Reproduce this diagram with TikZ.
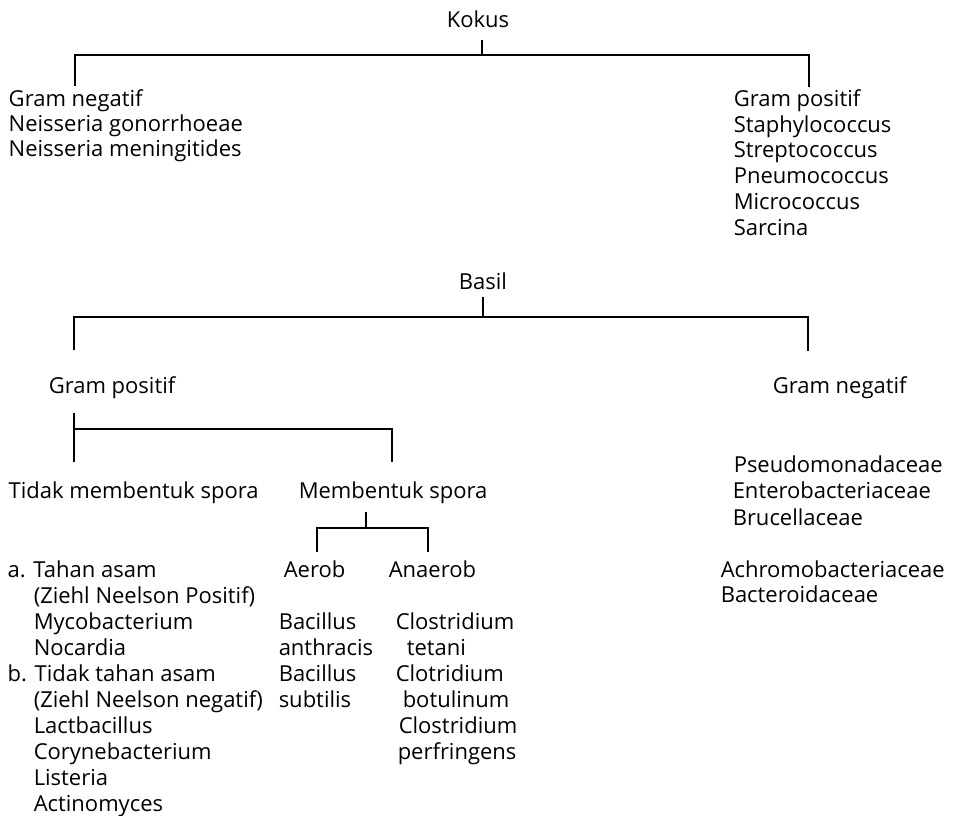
\documentclass[tikz,border=0pt]{standalone}
\usepackage{fontspec}
\setmainfont{Open Sans}
\begin{document}
\begin{tikzpicture}[x=1pt,y=-1pt,
  line width=1.5pt,
  txt/.style={anchor=base west, inner sep=0pt, font=\fontsize{22}{25}\selectfont},
  ctr/.style={anchor=base, inner sep=0pt, font=\fontsize{22}{25}\selectfont}]
\useasboundingbox[fill=white] (0,0) rectangle (955,815);

% ---------- Kokus ----------
\node[ctr] (kokus) at (478,27) {Kokus};
\node[txt] (kgn)  at (8,106) {Gram negatif};
\node[txt] (kgn1) at (8,131) {Neisseria gonorrhoeae};
\node[txt] (kgn2) at (8,156) {Neisseria meningitides};
\node[txt] (kgp)  at (733,106) {Gram positif};
\node[txt] (kgp1) at (733,132) {Staphylococcus};
\node[txt] (kgp2) at (733,157) {Streptococcus};
\node[txt] (kgp3) at (733,183) {Pneumococcus};
\node[txt] (kgp4) at (733,209) {Micrococcus};
\node[txt] (kgp5) at (733,235) {Sarcina};

\coordinate (kt) at (482,40);
\coordinate (kb) at (482,55);
\coordinate (kL) at (75,86);
\coordinate (kR) at (809,87);
\draw (kt) -- (kb);
\draw (kL) -- (kL |- kb) -- (kR |- kb) -- (kR);

% ---------- Basil ----------
\node[ctr] (basil) at (483,289) {Basil};
\node[txt] (bgp) at (48,393) {Gram positif};
\node[txt] (bgn) at (772,393) {Gram negatif};

\coordinate (bt) at (483,297);
\coordinate (bb) at (483,317);
\coordinate (bL) at (74,350);
\coordinate (bR) at (808,351);
\draw (bt) -- (bb);
\draw (bL) -- (bL |- bb) -- (bR |- bb) -- (bR);

% ---------- Gram positif branch ----------
\coordinate (pt) at (74,413);
\coordinate (pb) at (74,429);
\coordinate (pL) at (74,462);
\coordinate (pR) at (392,462);
\draw (pt) -- (pL);
\draw (pb) -- (pR |- pb) -- (pR);

\node[txt] (tms) at (8,498) {Tidak membentuk spora};
\node[txt] (ms)  at (298,498) {Membentuk spora};

\coordinate (mt) at (366,512);
\coordinate (mb) at (366,528);
\coordinate (mL) at (317,552);
\coordinate (mR) at (428,552);
\draw (mt) -- (mb);
\draw (mL) -- (mL |- mb) -- (mR |- mb) -- (mR);

\node[txt] (aer)  at (283,577) {Aerob};
\node[txt] (anae) at (388,577) {Anaerob};

% Tidak membentuk spora list
\node[txt] (t1)  at (7,577)  {a. Tahan asam};
\node[txt] (t2)  at (33,603) {(Ziehl Neelson Positif)};
\node[txt] (t3)  at (33,629) {Mycobacterium};
\node[txt] (t4)  at (33,655) {Nocardia};
\node[txt] (t5)  at (7,681)  {b. Tidak tahan asam};
\node[txt] (t6)  at (33,707) {(Ziehl Neelson negatif)};
\node[txt] (t7)  at (33,733) {Lactbacillus};
\node[txt] (t8)  at (33,759) {Corynebacterium};
\node[txt] (t9)  at (33,785) {Listeria};
\node[txt] (t10) at (33,811) {Actinomyces};

% Aerob list
\node[txt] (a1) at (278,629) {Bacillus};
\node[txt] (a2) at (278,655) {anthracis};
\node[txt] (a3) at (278,681) {Bacillus};
\node[txt] (a4) at (278,707) {subtilis};

% Anaerob list
\node[txt] (n1) at (395,629) {Clostridium};
\node[txt] (n2) at (406,655) {tetani};
\node[txt] (n3) at (395,681) {Clotridium};
\node[txt] (n4) at (402,707) {botulinum};
\node[txt] (n5) at (398,733) {Clostridium};
\node[txt] (n6) at (397,759) {perfringens};

% Gram negatif list
\node[txt] (g1) at (733,472) {Pseudomonadaceae};
\node[txt] (g2) at (732,498) {Enterobacteriaceae};
\node[txt] (g3) at (732,525) {Brucellaceae};
\node[txt] (g4) at (720,577) {Achromobacteriaceae};
\node[txt] (g5) at (720,602) {Bacteroidaceae};
\end{tikzpicture}
\end{document}
